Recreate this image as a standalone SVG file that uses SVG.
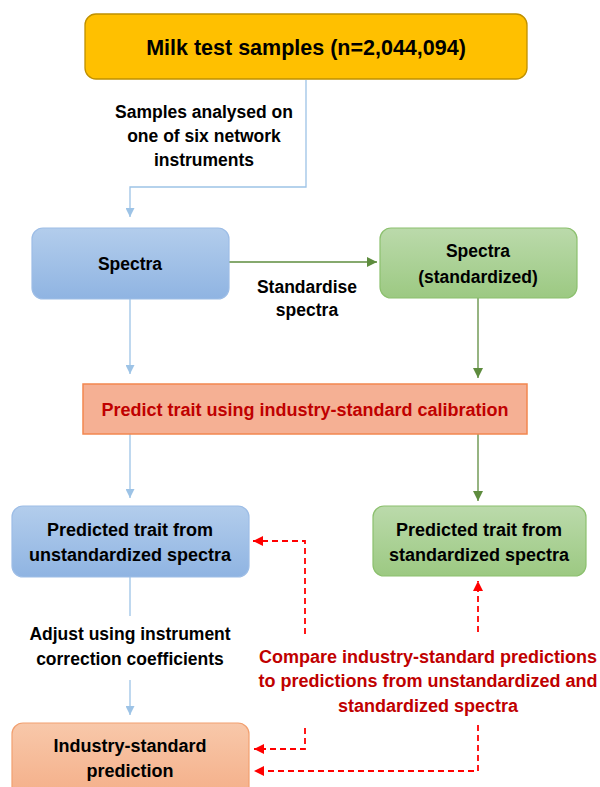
<svg xmlns="http://www.w3.org/2000/svg" width="600" height="787" viewBox="0 0 600 787">
<defs>
<style>
text{font-family:"Liberation Sans",Arial,sans-serif;font-weight:bold;text-anchor:middle;fill:#000}
.red{fill:#C00000}
.bl{stroke:#9DC3E6;stroke-width:1.3;fill:none}
.gr{stroke:#5E8C3E;stroke-width:1.3;fill:none}
.rd{stroke:#FF0000;stroke-width:1.8;stroke-dasharray:6 4;fill:none}
</style>
<linearGradient id="gBlue" x1="0" y1="0" x2="0" y2="1"><stop offset="0" stop-color="#B3CDEC"/><stop offset="1" stop-color="#8FB4E2"/></linearGradient>
<linearGradient id="gGreen" x1="0" y1="0" x2="0" y2="1"><stop offset="0" stop-color="#BBDAAB"/><stop offset="1" stop-color="#9CC982"/></linearGradient>
<linearGradient id="gOrange" x1="0" y1="0" x2="0" y2="1"><stop offset="0" stop-color="#F8C8AA"/><stop offset="1" stop-color="#F4AD86"/></linearGradient>
<marker id="aBlue" viewBox="0 0 10 10" refX="10" refY="5" markerWidth="9" markerHeight="9" markerUnits="userSpaceOnUse" orient="auto"><path d="M0,0L10,5L0,10z" fill="#9DC3E6"/></marker>
<marker id="aGreen" viewBox="0 0 10 10" refX="10" refY="5" markerWidth="10" markerHeight="10" markerUnits="userSpaceOnUse" orient="auto"><path d="M0,0L10,5L0,10z" fill="#5E8C3E"/></marker>
<marker id="aRed" viewBox="0 0 10 10" refX="10" refY="5" markerWidth="10" markerHeight="10" markerUnits="userSpaceOnUse" orient="auto"><path d="M0,0L10,5L0,10z" fill="#FF0000"/></marker>
</defs>
<rect width="600" height="787" fill="#FFFFFF"/>

<g id="connectors">
<path class="bl" d="M306,80V187H130V217" marker-end="url(#aBlue)"/>
<path class="gr" d="M229,262H377" marker-end="url(#aGreen)"/>
<path class="bl" d="M130,299V374" marker-end="url(#aBlue)"/>
<path class="gr" d="M478,298V378" marker-end="url(#aGreen)"/>
<path class="bl" d="M130,434V498" marker-end="url(#aBlue)"/>
<path class="gr" d="M478,434V501" marker-end="url(#aGreen)"/>
<path class="bl" d="M130,577V616"/>
<path class="bl" d="M130,680V715" marker-end="url(#aBlue)"/>
<path class="rd" d="M305,634V541H253" marker-end="url(#aRed)"/>
<path class="rd" d="M478,632V581" marker-end="url(#aRed)"/>
<path class="rd" d="M305,728V749H254" marker-end="url(#aRed)"/>
<path class="rd" d="M478,725V771H254" marker-end="url(#aRed)"/>
<text x="204" y="118" font-size="17.5">Samples analysed on</text>
<text x="204" y="142" font-size="17.5">one of six network</text>
<text x="204" y="166" font-size="17.5">instruments</text>
<text x="307" y="293" font-size="17.5">Standardise</text>
<text x="307" y="316" font-size="17.5">spectra</text>
<text x="130" y="640" font-size="17.5">Adjust using instrument</text>
<text x="130" y="665" font-size="17.5">correction coefficients</text>
<text class="red" x="428" y="663" font-size="18">Compare industry-standard predictions</text>
<text class="red" x="428" y="687" font-size="18">to predictions from unstandardized and</text>
<text class="red" x="428" y="712" font-size="18">standardized spectra</text>
</g>

<g id="milk">
<rect x="85" y="14" width="442" height="65" rx="11" fill="#FFC000" stroke="#BF9000" stroke-width="1.3"/>
<text x="306" y="55" font-size="21.5">Milk test samples (n=2,044,094)</text>
</g>
<g id="spectra">
<rect x="32" y="228" width="197" height="71" rx="11" fill="url(#gBlue)" stroke="#9DBDE6" stroke-width="1.2"/>
<text x="130" y="270" font-size="17.5">Spectra</text>
</g>
<g id="spectra-std">
<rect x="380" y="228" width="197" height="70" rx="11" fill="url(#gGreen)" stroke="#8CC06E" stroke-width="1.2"/>
<text x="478" y="257" font-size="17.5">Spectra</text>
<text x="478" y="283" font-size="17.5">(standardized)</text>
</g>
<g id="predict">
<rect x="83" y="384" width="444" height="50" fill="#F5B094" stroke="#F2874F" stroke-width="1.5"/>
<text class="red" x="305" y="416" font-size="18">Predict trait using industry-standard calibration</text>
</g>
<g id="pred-unstd">
<rect x="12" y="506" width="237" height="71" rx="11" fill="url(#gBlue)" stroke="#9DBDE6" stroke-width="1.2"/>
<text x="130" y="536" font-size="18">Predicted trait from</text>
<text x="130" y="561" font-size="18">unstandardized spectra</text>
</g>
<g id="pred-std">
<rect x="373" y="506" width="213" height="70" rx="11" fill="url(#gGreen)" stroke="#8CC06E" stroke-width="1.2"/>
<text x="479" y="536" font-size="18">Predicted trait from</text>
<text x="479" y="561" font-size="18">standardized spectra</text>
</g>
<g id="industry">
<rect x="12" y="723" width="237" height="80" rx="11" fill="url(#gOrange)" stroke="#F2A070" stroke-width="1.2"/>
<text x="130" y="752" font-size="18">Industry-standard</text>
<text x="130" y="777" font-size="18">prediction</text>
</g>
</svg>
